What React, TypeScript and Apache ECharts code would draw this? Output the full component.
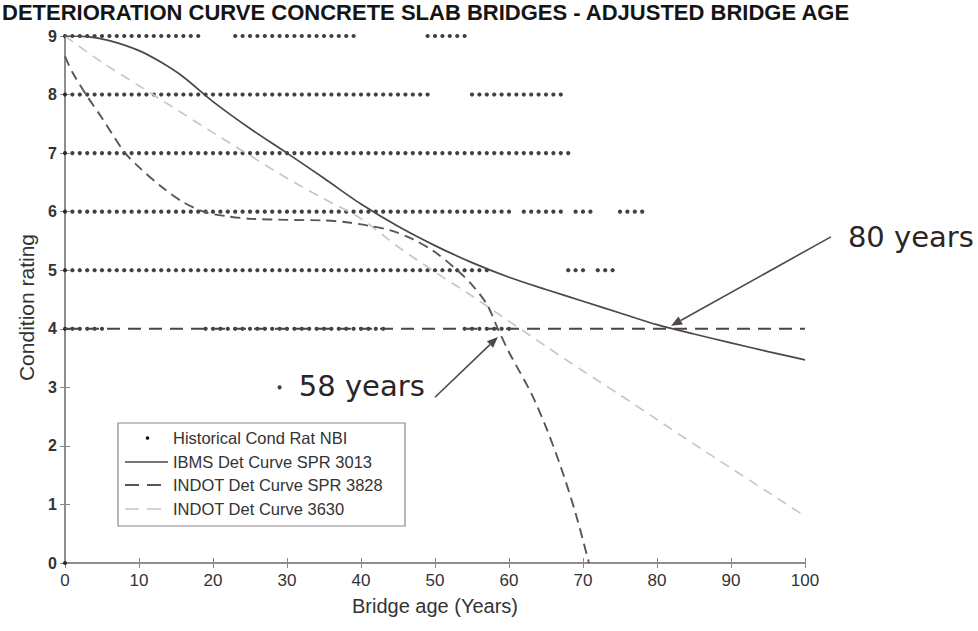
import { useEffect, useRef } from "react";
import * as echarts from "echarts";

// ---- Historical NBI condition ratings (age in years) per rating row ----
const row9Ages = [0,1,2,3,4,5,6,7,8,9,10,11,12,13,14,15,16,17,18,23,24,25,26,27,28,29,30,31,32,33,34,35,36,37,38,39,49,50,51,52,53,54];
const row8Ages = [0,1,2,3,4,5,6,7,8,9,10,11,12,13,14,15,16,17,18,19,20,21,22,23,24,25,26,27,28,29,30,31,32,33,34,35,36,37,38,39,40,41,42,43,44,45,46,47,48,49,55,56,57,58,59,60,61,62,63,64,65,66,67];
const row7Ages = [0,1,2,3,4,5,6,7,8,9,10,11,12,13,14,15,16,17,18,19,20,21,22,23,24,25,26,27,28,29,30,31,32,33,34,35,36,37,38,39,40,41,42,43,44,45,46,47,48,49,50,51,52,53,54,55,56,57,58,59,60,61,62,63,64,65,66,67,68];
const row6Ages = [0,1,2,3,4,5,6,7,8,9,10,11,12,13,14,15,16,17,18,19,20,21,22,23,24,25,26,27,28,29,30,31,32,33,34,35,36,37,38,39,40,41,42,43,44,45,46,47,48,49,50,51,52,53,54,55,56,57,58,59,60,62,63,64,65,66,67,69,70,71,75,76,77,78];
const row5Ages = [0,1,2,3,4,5,6,7,8,9,10,11,12,13,14,15,16,17,18,19,20,21,22,23,24,25,26,27,28,29,30,31,32,33,34,35,36,37,38,39,40,41,42,43,44,45,46,47,48,49,50,51,52,53,54,55,56,57,68,69,70,72,73,74];
const row4Ages = [0,1,2,3,4,5,19,20,21,22,23,24,25,26,27,28,29,30,31,32,33,34,35,36,37,38,39,40,41,42,43,54,55,56,57,58,59,60];
const row3Ages = [29];
const row0Ages = [0];

// ---- Deterioration curves ----
const ibmsAge = [0, 3, 6, 10, 13, 16, 20, 25, 30, 35, 40, 45, 50, 55, 60, 65, 70, 75, 80, 85, 90, 95, 100];
const ibmsRating = [9.0, 8.99, 8.92, 8.75, 8.55, 8.3, 7.88, 7.42, 7.0, 6.57, 6.13, 5.75, 5.42, 5.13, 4.88, 4.67, 4.47, 4.27, 4.07, 3.91, 3.76, 3.61, 3.47];

const spr3828Age = [0, 1, 3, 5, 8, 10, 13, 16, 19, 22, 25, 30, 35, 38, 41, 44, 47, 50, 53, 55, 57, 58.5, 60, 63, 65, 67, 69, 70.8];
const spr3828Rating = [8.65, 8.38, 7.97, 7.6, 7.02, 6.76, 6.43, 6.16, 5.99, 5.92, 5.88, 5.86, 5.85, 5.82, 5.76, 5.68, 5.53, 5.31, 5.0, 4.75, 4.42, 4.0, 3.6, 2.9, 2.32, 1.64, 0.85, 0];

const c3630Age = [0, 5, 10, 15, 20, 25, 30, 35, 40, 45, 50, 55, 60, 65, 70, 75, 80, 85, 90, 95, 100];
const c3630Rating = [9.0, 8.55, 8.15, 7.75, 7.35, 6.96, 6.57, 6.22, 5.88, 5.4, 4.97, 4.56, 4.13, 3.7, 3.28, 2.87, 2.45, 2.03, 1.62, 1.21, 0.8];

const thresholdAge = [0, 100];
const thresholdRating = [4, 4];

// ---- Axis ticks ----
const xTicks = [0, 10, 20, 30, 40, 50, 60, 70, 80, 90, 100];
const yTicks = [0, 1, 2, 3, 4, 5, 6, 7, 8, 9];

// ---- Texts ----
const titleText = "DETERIORATION CURVE CONCRETE SLAB BRIDGES - ADJUSTED BRIDGE AGE";
const xName = "Bridge age (Years)";
const yName = "Condition rating";
const seriesNames = [
  "Historical Cond Rat NBI",
  "IBMS Det Curve SPR 3013",
  "INDOT Det Curve SPR 3828",
  "INDOT Det Curve 3630",
];

// ---- Annotations (data coordinates) ----
const note80Text = "80 years";
const note80Label = [105.8, 5.575];
const note80From = [103.5, 5.57];
const note80To = [81.9, 4.05];
const note58Text = "58 years";
const note58Label = [31.6, 3.02];
const note58From = [50.0, 2.83];
const note58To = [58.5, 3.86];

const zip = (xs: number[], ys: number[]) => xs.map((x, i) => [x, ys[i]]);
const rowPts = (ages: number[], r: number) => ages.map((a) => [a, r]);

export default function App() {
  const ref = useRef<HTMLDivElement>(null);

  useEffect(() => {
    const chart = echarts.init(ref.current!, null, { renderer: "svg" });
    const axisColor = "#8a8686";
    const historical = [
      ...rowPts(row9Ages, 9),
      ...rowPts(row8Ages, 8),
      ...rowPts(row7Ages, 7),
      ...rowPts(row6Ages, 6),
      ...rowPts(row5Ages, 5),
      ...rowPts(row4Ages, 4),
      ...rowPts(row3Ages, 3),
      ...rowPts(row0Ages, 0),
    ];
    const baseAxis = {
      type: "value",
      axisLine: { show: true, lineStyle: { color: axisColor, width: 1.5 } },
      axisTick: { show: true, inside: true, length: 5, lineStyle: { color: axisColor, width: 1 } },
      splitLine: { show: false },
    };
    const option: any = {
      animation: false,
      backgroundColor: "#ffffff",
      title: {
        text: titleText,
        left: 2,
        top: 1,
        padding: 0,
        textStyle: { fontFamily: "Liberation Sans", fontWeight: "bold", fontSize: 22, lineHeight: 22, color: "#151515" },
      },
      grid: { left: 65, right: 173, top: 36, bottom: 68, containLabel: false },
      xAxis: [
        {
          ...baseAxis,
          min: xTicks[0],
          max: xTicks[xTicks.length - 1],
          interval: xTicks[1] - xTicks[0],
          position: "bottom",
          name: xName,
          nameLocation: "middle",
          nameGap: 33,
          nameTextStyle: { fontFamily: "Liberation Sans", fontSize: 20, color: "#333" },
          axisLabel: { margin: 9, fontFamily: "Liberation Sans", fontSize: 17, color: "#333" },
        },
        {
          ...baseAxis,
          min: xTicks[0],
          max: xTicks[xTicks.length - 1],
          interval: xTicks[1] - xTicks[0],
          position: "top",
          axisLabel: { show: false },
        },
      ],
      yAxis: [
        {
          ...baseAxis,
          min: yTicks[0],
          max: yTicks[yTicks.length - 1],
          interval: 1,
          position: "left",
          name: yName,
          nameLocation: "middle",
          nameGap: 27,
          nameTextStyle: { fontFamily: "Liberation Sans", fontSize: 21, color: "#333", padding: [0, 16, 0, 0] },
          axisLabel: { margin: 8, fontFamily: "Liberation Sans", fontWeight: "bold", fontSize: 16, color: "#333" },
        },
        {
          ...baseAxis,
          min: yTicks[0],
          max: yTicks[yTicks.length - 1],
          interval: 1,
          position: "right",
          axisLabel: { show: false },
        },
      ],
      series: [
        {
          name: seriesNames[0],
          type: "scatter",
          data: historical,
          symbol: "circle",
          symbolSize: 4.2,
          itemStyle: { color: "#111" },
          z: 1,
        },
        {
          name: seriesNames[1],
          type: "line",
          data: zip(ibmsAge, ibmsRating),
          showSymbol: false,
          smooth: 0.3,
          lineStyle: { color: "#4f4646", width: 1.7 },
          z: 3,
        },
        {
          name: seriesNames[2],
          type: "line",
          data: zip(spr3828Age, spr3828Rating),
          showSymbol: false,
          smooth: 0.3,
          lineStyle: { color: "#5d5454", width: 1.9, type: [10, 6] },
          z: 3,
        },
        {
          name: seriesNames[3],
          type: "line",
          data: zip(c3630Age, c3630Rating),
          showSymbol: false,
          smooth: 0.3,
          lineStyle: { color: "#cdc5c2", width: 1.7, type: [10, 7] },
          z: 2,
        },
        {
          name: "threshold",
          type: "line",
          data: zip(thresholdAge, thresholdRating),
          showSymbol: false,
          lineStyle: { color: "#4a4444", width: 2, type: [13, 8] },
          z: 4,
        },
      ],
    };
    chart.setOption(option);

    const px = (p: number[]) => chart.convertToPixel({ gridIndex: 0 }, p) as number[];
    const arrow = (fromD: number[], toD: number[]) => {
      const s = px(fromD);
      const t = px(toD);
      const dx = t[0] - s[0];
      const dy = t[1] - s[1];
      const len = Math.hypot(dx, dy);
      const ux = dx / len;
      const uy = dy / len;
      const hl = 11;
      const hw = 4.5;
      const bx = t[0] - ux * hl;
      const by = t[1] - uy * hl;
      const nx = -uy;
      const ny = ux;
      return [
        {
          type: "line",
          shape: { x1: s[0], y1: s[1], x2: bx, y2: by },
          style: { stroke: "#4f4a4a", lineWidth: 1.6 },
          z: 20,
        },
        {
          type: "polygon",
          shape: { points: [[t[0], t[1]], [bx + nx * hw, by + ny * hw], [bx - nx * hw, by - ny * hw]] },
          style: { fill: "#4f4a4a" },
          z: 20,
        },
      ];
    };
    const l80 = px(note80Label);
    const l58 = px(note58Label);
    const annFont = "DejaVu Sans";

    // legend box
    const lgX = 118;
    const lgY = 423;
    const lgW = 287;
    const lgH = 103;
    const rowY = [438, 462, 485, 509];
    const lineX1 = 125;
    const lineX2 = 168;
    const txtX = 173;
    const legendEls: any[] = [
      {
        type: "rect",
        shape: { x: lgX, y: lgY, width: lgW, height: lgH },
        style: { fill: "#fff", stroke: "#8a8686", lineWidth: 1.2 },
        z: 30,
      },
      {
        type: "circle",
        shape: { cx: (lineX1 + lineX2) / 2 + 1, cy: rowY[0], r: 1.8 },
        style: { fill: "#111" },
        z: 31,
      },
      {
        type: "line",
        shape: { x1: lineX1, y1: rowY[1], x2: lineX2, y2: rowY[1] },
        style: { stroke: "#4f4646", lineWidth: 1.7 },
        z: 31,
      },
      {
        type: "line",
        shape: { x1: lineX1, y1: rowY[2], x2: lineX2, y2: rowY[2] },
        style: { stroke: "#5d5454", lineWidth: 1.9, lineDash: [14, 8] },
        z: 31,
      },
      {
        type: "line",
        shape: { x1: lineX1, y1: rowY[3], x2: lineX2, y2: rowY[3] },
        style: { stroke: "#cdc5c2", lineWidth: 1.7, lineDash: [14, 8] },
        z: 31,
      },
      ...seriesNames.map((n, i) => ({
        type: "text",
        x: txtX,
        y: rowY[i],
        style: {
          text: n,
          fontFamily: "Liberation Sans",
          fontSize: 16.5,
          fill: "#333",
          verticalAlign: "middle",
          align: "left",
        },
        z: 31,
      })),
    ];

    chart.setOption({
      graphic: [
        ...arrow(note80From, note80To),
        ...arrow(note58From, note58To),
        {
          type: "text",
          x: l80[0],
          y: l80[1],
          style: { text: note80Text, fontFamily: annFont, fontSize: 29, fill: "#2a2626", verticalAlign: "middle", align: "left" },
          z: 20,
        },
        {
          type: "text",
          x: l58[0],
          y: l58[1],
          style: { text: note58Text, fontFamily: annFont, fontSize: 29, fill: "#2a2626", verticalAlign: "middle", align: "left" },
          z: 20,
        },
        ...legendEls,
      ],
    });

    return () => chart.dispose();
  }, []);

  return (
    <div
      ref={ref}
      style={{ position: "fixed", left: 0, top: 0, width: 978, height: 631, background: "#fff" }}
    />
  );
}
